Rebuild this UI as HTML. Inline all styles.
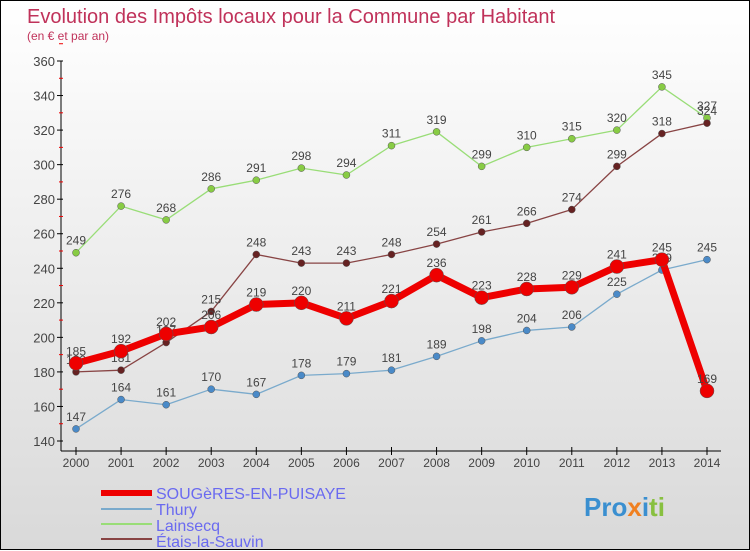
<!DOCTYPE html>
<html><head><meta charset="utf-8"><style>
body{margin:0;width:750px;height:550px;overflow:hidden;font-family:"Liberation Sans",sans-serif}
#wrap{position:relative;width:748px;height:548px;border:1px solid #000;background:linear-gradient(#fff,#d9d9d9)}
svg{position:absolute;left:0;top:0}
</style></head><body>
<div id="wrap">
<svg id="c" width="750" height="550">
<text x="26" y="22" font-size="20" fill="#c0325a">Evolution des Impôts locaux pour la Commune par Habitant</text>
<text x="26" y="39" font-size="12" fill="#c0325a">(en € et par an)</text>
<line x1="60" y1="60" x2="60" y2="450" stroke="#000"/>
<line x1="60" y1="450" x2="720" y2="450" stroke="#000"/>
<g id="ticks"></g><g id="series"></g>
<g font-size="16" fill="#6a6af0">
<line x1="100" y1="492" x2="151" y2="492" stroke="#e00" stroke-width="6"/>
<text x="155" y="498">SOUGèRES-EN-PUISAYE</text>
<line x1="100" y1="508" x2="151" y2="508" stroke="#7aaacc" stroke-width="2"/>
<text x="155" y="514">Thury</text>
<line x1="100" y1="523" x2="151" y2="523" stroke="#99dd77" stroke-width="2"/>
<text x="155" y="530">Lainsecq</text>
<line x1="100" y1="538" x2="151" y2="538" stroke="#884444" stroke-width="2"/>
<text x="155" y="546">Étais-la-Sauvin</text>
</g>
<text x="583" y="515" font-size="26" font-weight="bold" fill="#3a8fd0">Pro<tspan fill="#f08020">x</tspan>i<tspan fill="#88c040">ti</tspan></text>
</svg></div>
<script>
const years=[2000,2001,2002,2003,2004,2005,2006,2007,2008,2009,2010,2011,2012,2013,2014];
const yTicks=[140,160,180,200,220,240,260,280,300,320,340,360];
const sougeres=[185,192,202,206,219,220,211,221,236,223,228,229,241,245,169];
const thury=[147,164,161,170,167,178,179,181,189,198,204,206,225,239,245];
const lainsecq=[249,276,268,286,291,298,294,311,319,299,310,315,320,345,327];
const etais=[180,181,197,215,248,243,243,248,254,261,266,274,299,318,324];
const NS="http://www.w3.org/2000/svg";
const xS=i=>75+i*(706-75)/14;
const yS=v=>440-(v-140)*(380/220);
function mk(t,a,p){const e=document.createElementNS(NS,t);for(const k in a)e.setAttribute(k,a[k]);p.appendChild(e);return e;}
const tk=document.getElementById('ticks');
yTicks.forEach(v=>{
 const l=mk('line',{x1:56,x2:62,y1:yS(v),y2:yS(v),stroke:'#000'},tk);
 
 
 const r=mk('line',{x1:58,x2:62,y1:yS(v+10),y2:yS(v+10),stroke:'#e00'},tk);
 
 
 const t=mk('text',{x:54,y:yS(v)+5,'text-anchor':'end','font-size':13,fill:'#444'},tk);
 t.textContent=v;
 
 
});
years.forEach((y,i)=>{
 const l=mk('line',{x1:xS(i),x2:xS(i),y1:446,y2:454,stroke:'#000'},tk);
 
 
 const t=mk('text',{x:xS(i),y:466,'text-anchor':'middle','font-size':12,fill:'#444'},tk);
 t.textContent=y;
 
 
});
const sg=document.getElementById('series');
function draw(vals,color,fill,w,r,name){
 const g=mk('g',{},sg);
 
 
 const pl=mk('polyline',{points:vals.map((v,i)=>xS(i)+','+yS(v)).join(' '),fill:'none',stroke:color,'stroke-width':w,'stroke-linejoin':'round'},g);
 
 
 vals.forEach((v,i)=>{
  const c=mk('circle',{cx:xS(i),cy:yS(v),r:r,fill:fill,stroke:'#555','stroke-width':0.5},g);
  
  
  const t=mk('text',{x:xS(i),y:yS(v)-8,'text-anchor':'middle','font-size':12,fill:'#444'},g);
  t.textContent=v;
  
  
 });
}
draw(lainsecq,'#99dd77','#88cc44',1.3,3.5,'lainsecq');
draw(etais,'#884444','#662222',1.3,3.5,'etais');
draw(thury,'#7aaacc','#4a8ac8',1.3,3.5,'thury');
draw(sougeres,'#ee0000','#ee0000',7,7,'sougeres');
</script>
</body></html>
